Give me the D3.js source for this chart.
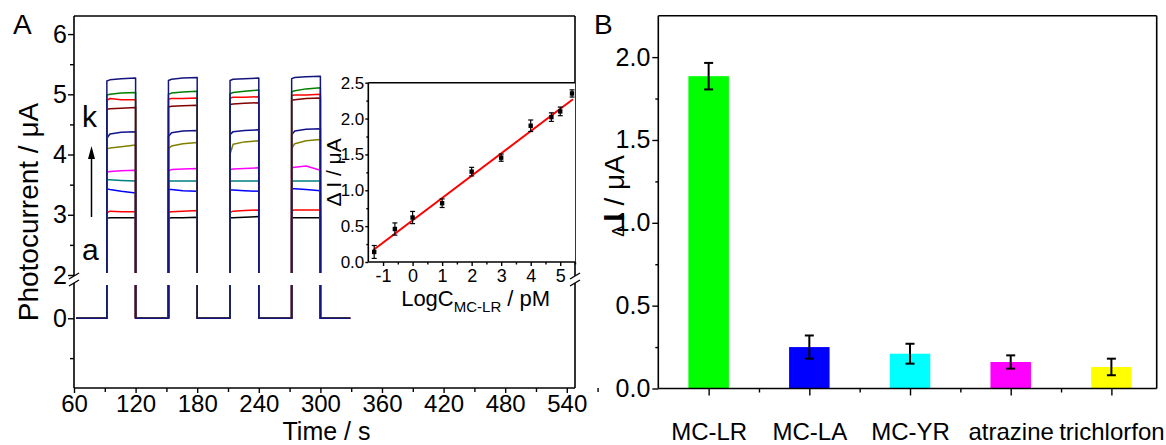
<!DOCTYPE html>
<html>
<head>
<meta charset="utf-8">
<script src="https://cdn.jsdelivr.net/npm/d3@7"></script>
<style>
  html, body { margin: 0; padding: 0; background: #fff; }
  svg { display: block; font-family: "Liberation Sans", Arial, sans-serif; }
</style>
</head>
<body>
<svg id="chart" width="1166" height="445"></svg>
<script>
// ---------- Panel A: photocurrent responses, curves a–k ----------
const curveNames  = ["a", "b", "c", "d", "e", "f", "g", "h", "i", "j", "k"];
const curveColors = ["#000000", "#ff0000", "#0000ff", "#008080", "#ff00ff", "#808000",
                     "#12128c", "#800000", "#ff0000", "#008000", "#14147e"];
const lightOn  = [92, 152, 212, 272];
const lightOff = [120, 180, 240, 300];
const sampleOffsets = [0, 3, 14, 28];   // seconds after the light is switched on
const traceStart = 62, traceEnd = 329;
// photocurrent (µA) at the sample offsets, four pulses per curve
const curveLevels = [
  [2.94, 2.95, 2.95, 2.95,  2.94, 2.95, 2.95, 2.96,  2.95, 2.95, 2.96, 2.97,  2.95, 2.95, 2.95, 2.95],
  [3.03, 3.06, 3.05, 3.05,  3.04, 3.05, 3.06, 3.07,  3.04, 3.06, 3.07, 3.08,  3.07, 3.08, 3.08, 3.08],
  [3.43, 3.42, 3.39, 3.36,  3.42, 3.42, 3.40, 3.39,  3.41, 3.41, 3.40, 3.39,  3.43, 3.43, 3.42, 3.40],
  [3.58, 3.58, 3.57, 3.56,  3.56, 3.56, 3.56, 3.56,  3.56, 3.56, 3.56, 3.56,  3.56, 3.56, 3.56, 3.56],
  [3.70, 3.72, 3.73, 3.74,  3.73, 3.75, 3.76, 3.77,  3.75, 3.76, 3.77, 3.78,  3.78, 3.79, 3.81, 3.74],
  [4.09, 4.11, 4.13, 4.16,  4.10, 4.14, 4.18, 4.20,  4.01, 4.17, 4.21, 4.23,  4.10, 4.18, 4.23, 4.25],
  [4.27, 4.34, 4.37, 4.38,  4.30, 4.36, 4.39, 4.40,  4.33, 4.38, 4.40, 4.41,  4.33, 4.39, 4.42, 4.43],
  [4.75, 4.76, 4.77, 4.78,  4.79, 4.80, 4.81, 4.82,  4.83, 4.84, 4.85, 4.86,  4.90, 4.91, 4.93, 4.94],
  [4.90, 4.93, 4.91, 4.91,  4.92, 4.93, 4.93, 4.94,  4.94, 4.95, 4.95, 4.96,  4.98, 4.99, 4.99, 5.00],
  [4.99, 5.00, 5.02, 5.03,  5.00, 5.02, 5.04, 5.05,  5.01, 5.03, 5.05, 5.07,  5.04, 5.06, 5.09, 5.11],
  [5.22, 5.24, 5.26, 5.27,  5.23, 5.25, 5.27, 5.28,  5.23, 5.25, 5.26, 5.27,  5.26, 5.28, 5.29, 5.30]
];
const timeTicks = [60, 120, 180, 240, 300, 360, 420, 480, 540];
const upperTicks = [2, 3, 4, 5, 6];
const lowerTicks = [0];

// ---------- Inset: calibration ----------
const logConc   = [-1.3, -0.6, 0, 1, 2, 3, 4, 4.7, 5, 5.4];
const deltaI    = [0.14, 0.46, 0.62, 0.82, 1.26, 1.455, 1.90, 2.02, 2.10, 2.35];
const deltaIErr = [0.09, 0.085, 0.085, 0.06, 0.06, 0.05, 0.08, 0.06, 0.06, 0.05];
const fitLine   = [[-1.33, 0.167], [5.43, 2.27]];
const insetXTicks = [-1, 0, 1, 2, 3, 4, 5];
const insetYTicks = [0, 0.5, 1.0, 1.5, 2.0, 2.5];

// ---------- Panel B: selectivity ----------
const analytes   = ["MC-LR", "MC-LA", "MC-YR", "atrazine", "trichlorfon"];
const responses  = [1.885, 0.25, 0.21, 0.16, 0.13];
const responseErr = [0.08, 0.07, 0.06, 0.04, 0.05];
const barColors  = ["#00ff00", "#0000ff", "#00ffff", "#ff00ff", "#ffff00"];
const bYTicks    = [0, 0.5, 1.0, 1.5, 2.0];

const svg = d3.select("#chart");
svg.append("rect").attr("width", 1166).attr("height", 445).attr("fill", "#fff");

const LW = 1.6;
function seg(g, x1, y1, x2, y2, w) {
  g.append("line").attr("x1", x1).attr("y1", y1).attr("x2", x2).attr("y2", y2)
    .attr("stroke", "#000").attr("stroke-width", w || LW);
}
function styleAxis(g, size) {
  g.select(".domain").remove();
  g.selectAll(".tick line").attr("stroke", "#000").attr("stroke-width", 1.4);
  g.selectAll(".tick text").attr("fill", "#000").attr("font-size", size)
    .attr("font-family", "Liberation Sans, Arial, sans-serif");
}

// ================= Panel A =================
const A = { left: 74, right: 575, top: 16, bottom: 388, breakTop: 276, breakBot: 283 };
const xA = d3.scaleLinear().domain([60, 548]).range([A.left, A.right]);
const yUp = d3.scaleLinear().domain([2, 6.3]).range([275, A.top]);
const yLo = d3.scaleLinear().domain([-0.875, 0.43]).range([A.bottom, 284]);
const yA = v => (v >= 1.5 ? yUp(v) : yLo(v));

const gA = svg.append("g");
const defs = svg.append("defs");
const clip = defs.append("clipPath").attr("id", "clipA");
clip.append("rect").attr("x", A.left).attr("y", A.top).attr("width", A.right - A.left).attr("height", 273 - A.top);
clip.append("rect").attr("x", A.left).attr("y", 285).attr("width", A.right - A.left).attr("height", A.bottom - 285);

const traceLine = d3.line().x(d => xA(d[0])).y(d => yA(d[1]));
const traces = curveLevels.map((lev, ci) => {
  const pts = [[traceStart, 0]];
  lightOn.forEach((on, p) => {
    pts.push([on, 0]);
    sampleOffsets.forEach((off, s) => pts.push([on + off, lev[p * 4 + s]]));
    pts.push([lightOff[p], 0]);
  });
  pts.push([traceEnd, 0]);
  return { name: curveNames[ci], color: curveColors[ci], pts };
});
gA.append("g").attr("clip-path", "url(#clipA)")
  .selectAll("path").data(traces).join("path")
  .attr("d", d => traceLine(d.pts))
  .attr("fill", "none").attr("stroke", d => d.color).attr("stroke-width", 1.5)
  .attr("stroke-linejoin", "round");

// axes of panel A
const axXA = gA.append("g").attr("transform", `translate(0,${A.bottom})`)
  .call(d3.axisBottom(xA).tickValues(timeTicks).tickSize(5).tickPadding(2).tickFormat(d3.format("d")));
styleAxis(axXA, 24);
const axXAm = gA.append("g").attr("transform", `translate(0,${A.bottom})`)
  .call(d3.axisBottom(xA).tickValues(timeTicks.map(t => t + 30)).tickSize(4).tickFormat(""));
styleAxis(axXAm, 24);

const axYU = gA.append("g").attr("transform", `translate(${A.left},0)`)
  .call(d3.axisLeft(yUp).tickValues(upperTicks).tickSize(6).tickPadding(1).tickFormat(d3.format("d")));
styleAxis(axYU, 25);
const axYUm = gA.append("g").attr("transform", `translate(${A.left},0)`)
  .call(d3.axisLeft(yUp).tickValues(upperTicks.slice(0, -1).map(v => v + 0.5)).tickSize(4).tickFormat(""));
styleAxis(axYUm, 25);
const axYL = gA.append("g").attr("transform", `translate(${A.left},0)`)
  .call(d3.axisLeft(yLo).tickValues(lowerTicks).tickSize(6).tickPadding(1).tickFormat(d3.format("d")));
styleAxis(axYL, 25);
const axYLm = gA.append("g").attr("transform", `translate(${A.left},0)`)
  .call(d3.axisLeft(yLo).tickValues([-0.5]).tickSize(4).tickFormat(""));
styleAxis(axYLm, 25);

// frame with broken vertical sides
seg(gA, A.left, A.top, A.left, A.breakTop);
seg(gA, A.left, A.breakBot, A.left, A.bottom);
seg(gA, A.right, A.top, A.right, A.breakTop);
seg(gA, A.right, A.breakBot, A.right, A.bottom);
seg(gA, A.left, A.bottom, A.right, A.bottom);
seg(gA, A.left, A.top, A.right, A.top);
[A.left, A.right].forEach(x => {
  seg(gA, x - 5, A.breakTop + 3, x + 5, A.breakTop - 3, 1.4);
  seg(gA, x - 5, A.breakBot + 3, x + 5, A.breakBot - 3, 1.4);
});

// labels of panel A
gA.append("text").attr("x", 13).attr("y", 34).attr("font-size", 28).text("A");
gA.append("text").attr("transform", "translate(38,212) rotate(-90)")
  .attr("text-anchor", "middle").attr("font-size", 28).text("Photocurrent / μA");
gA.append("text").attr("x", (A.left + A.right) / 2 + 2).attr("y", 439.5)
  .attr("text-anchor", "middle").attr("font-size", 25).text("Time / s");
gA.append("text").attr("x", 82).attr("y", 127).attr("font-size", 30).text("k");
gA.append("text").attr("x", 82).attr("y", 260).attr("font-size", 30).text("a");
seg(gA, 91.5, 217, 91.5, 156, 1.5);
gA.append("path").attr("d", "M91.5,146 L88,159 L95,159 Z").attr("fill", "#000");

// ================= Inset =================
const I = { left: 368.3, right: A.right, top: 82.7, bottom: 262 };
const xI = d3.scaleLinear().domain([-1.5, 5.5]).range([I.left, I.right]);
const yI = d3.scaleLinear().domain([0, 2.5]).range([I.bottom, I.top]);
const gI = svg.append("g");
gI.append("rect").attr("x", I.left).attr("y", I.top).attr("width", I.right - I.left)
  .attr("height", I.bottom - I.top).attr("fill", "#fff");

const axXI = gI.append("g").attr("transform", `translate(0,${I.bottom})`)
  .call(d3.axisBottom(xI).tickValues(insetXTicks).tickSize(4).tickPadding(3).tickFormat(d => String(d)));
styleAxis(axXI, 18);
const axXIm = gI.append("g").attr("transform", `translate(0,${I.bottom})`)
  .call(d3.axisBottom(xI).tickValues(insetXTicks.map(v => v + 0.5)).tickSize(2.5).tickFormat(""));
styleAxis(axXIm, 18);
const axYI = gI.append("g").attr("transform", `translate(${I.left},0)`)
  .call(d3.axisLeft(yI).tickValues(insetYTicks).tickSize(3).tickPadding(1).tickFormat(d3.format(".1f")));
styleAxis(axYI, 17);
const axYIm = gI.append("g").attr("transform", `translate(${I.left},0)`)
  .call(d3.axisLeft(yI).tickValues(insetYTicks.slice(0, -1).map(v => v + 0.25)).tickSize(2).tickFormat(""));
styleAxis(axYIm, 17);

seg(gI, I.left, I.top, I.right, I.top);
seg(gI, I.left, I.top, I.left, I.bottom);
seg(gI, I.left, I.bottom, I.right, I.bottom);

gI.append("path").attr("d", d3.line().x(d => xI(d[0])).y(d => yI(d[1]))(fitLine))
  .attr("stroke", "#ff0000").attr("stroke-width", 2).attr("fill", "none");

const pts = logConc.map((x, i) => ({ x, y: deltaI[i], e: deltaIErr[i] }));
const gp = gI.append("g").selectAll("g").data(pts).join("g");
gp.append("line").attr("x1", d => xI(d.x)).attr("x2", d => xI(d.x))
  .attr("y1", d => yI(d.y - d.e)).attr("y2", d => yI(d.y + d.e))
  .attr("stroke", "#000").attr("stroke-width", 1.2);
gp.append("line").attr("x1", d => xI(d.x) - 2.5).attr("x2", d => xI(d.x) + 2.5)
  .attr("y1", d => yI(d.y + d.e)).attr("y2", d => yI(d.y + d.e))
  .attr("stroke", "#000").attr("stroke-width", 1.2);
gp.append("line").attr("x1", d => xI(d.x) - 2.5).attr("x2", d => xI(d.x) + 2.5)
  .attr("y1", d => yI(d.y - d.e)).attr("y2", d => yI(d.y - d.e))
  .attr("stroke", "#000").attr("stroke-width", 1.2);
gp.append("rect").attr("x", d => xI(d.x) - 2.2).attr("y", d => yI(d.y) - 2.2)
  .attr("width", 4.4).attr("height", 4.4).attr("fill", "#000");

gI.append("text").attr("transform", `translate(341,${(I.top + I.bottom) / 2}) rotate(-90)`)
  .attr("text-anchor", "middle").attr("font-size", 21).text("Δ I / μA");
const xlab = gI.append("text").attr("x", (I.left + I.right) / 2 + 4).attr("y", 306)
  .attr("text-anchor", "middle").attr("font-size", 22);
xlab.append("tspan").text("LogC");
xlab.append("tspan").attr("font-size", 15).attr("dy", 6).text("MC-LR");
xlab.append("tspan").attr("dy", -6).text(" / pM");

// ================= Panel B =================
const B = { left: 658.3, right: 1156.7, top: 15.7, bottom: 388.5 };
const xB = d3.scaleLinear().domain([0.5, 5.45]).range([B.left, B.right]);
const yB = d3.scaleLinear().domain([0, 2.25]).range([B.bottom, B.top]);
const gB = svg.append("g");
const barW = 40.5;
const bars = analytes.map((name, i) => ({ name, pos: i + 1, v: responses[i], e: responseErr[i], c: barColors[i] }));

gB.selectAll("rect.bar").data(bars).join("rect").attr("class", "bar")
  .attr("x", d => xB(d.pos) - barW / 2).attr("width", barW)
  .attr("y", d => yB(d.v)).attr("height", d => yB(0) - yB(d.v))
  .attr("fill", d => d.c);
const ge = gB.append("g").selectAll("g").data(bars).join("g");
ge.append("line").attr("x1", d => xB(d.pos)).attr("x2", d => xB(d.pos))
  .attr("y1", d => yB(d.v - d.e)).attr("y2", d => yB(d.v + d.e))
  .attr("stroke", "#000").attr("stroke-width", 2);
[1, -1].forEach(s => {
  ge.append("line").attr("x1", d => xB(d.pos) - 4.5).attr("x2", d => xB(d.pos) + 4.5)
    .attr("y1", d => yB(d.v + s * d.e)).attr("y2", d => yB(d.v + s * d.e))
    .attr("stroke", "#000").attr("stroke-width", 2);
});

const axXB = gB.append("g").attr("transform", `translate(0,${B.bottom})`)
  .call(d3.axisBottom(xB).tickValues([1, 2, 3, 4, 5]).tickSize(7).tickPadding(27)
    .tickFormat(d => analytes[d - 1]));
styleAxis(axXB, 24);
const axXBm = gB.append("g").attr("transform", `translate(0,${B.bottom})`)
  .call(d3.axisBottom(xB).tickValues([1.5, 2.5, 3.5, 4.5]).tickSize(4).tickFormat(""));
styleAxis(axXBm, 24);
const axYB = gB.append("g").attr("transform", `translate(${B.left},0)`)
  .call(d3.axisLeft(yB).tickValues(bYTicks).tickSize(6).tickPadding(2).tickFormat(d3.format(".1f")));
styleAxis(axYB, 25);
const axYBm = gB.append("g").attr("transform", `translate(${B.left},0)`)
  .call(d3.axisLeft(yB).tickValues(bYTicks.slice(0, -1).map(v => v + 0.25)).tickSize(3).tickFormat(""));
styleAxis(axYBm, 25);

seg(gB, B.left, B.top, B.right, B.top);
seg(gB, B.left, B.top, B.left, B.bottom);
seg(gB, B.right, B.top, B.right, B.bottom);
seg(gB, B.left, B.bottom, B.right, B.bottom);

gB.append("text").attr("x", 594).attr("y", 34).attr("font-size", 28).text("B");
const ylabB = gB.append("text").attr("transform", "translate(624,196) rotate(-90)")
  .attr("text-anchor", "middle").attr("font-size", 28);
ylabB.append("tspan").attr("font-size", 17).text("Δ ");
ylabB.append("tspan").attr("font-weight", "bold").attr("font-size", 30).text("I");
ylabB.append("tspan").text(" / μA");
</script>
</body>
</html>
